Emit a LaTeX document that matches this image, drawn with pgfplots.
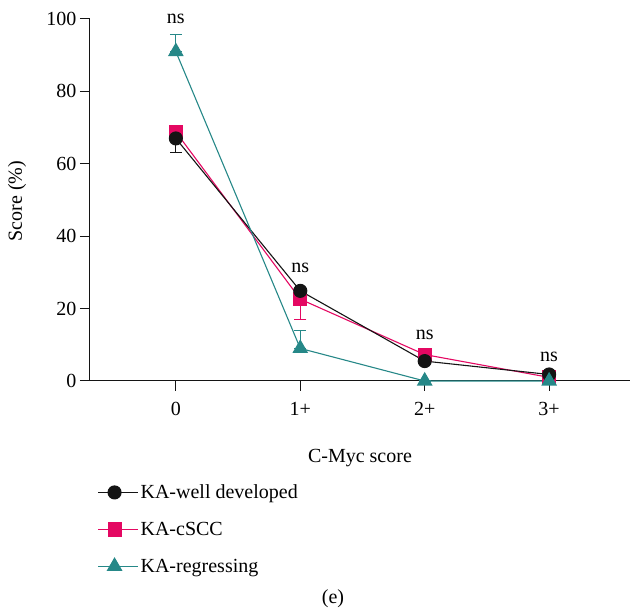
\documentclass[border=0pt]{standalone}
\usepackage{pgfplots}
\pgfplotsset{compat=1.18}
\usepackage{fontspec}
\setmainfont{Liberation Serif}
\definecolor{cblack}{RGB}{20,20,20}
\definecolor{cpink}{RGB}{228,8,98}
\definecolor{cteal}{RGB}{38,136,136}
\newcommand{\ff}{\fontsize{20}{23}\selectfont}
\newcommand{\tl}[1]{\hbox{\ff #1}}
\begin{document}
\begin{tikzpicture}
\begin{axis}[
  at={(0,0)}, anchor=south west,
  scale only axis, width=540pt, height=362pt,
  xmin=-0.69, xmax=3.65, ymin=0, ymax=100,
  axis lines=left, axis line style={-, line width=1pt, color=cblack},
  clip=false,
  xtick={0,1,2,3}, xticklabels={{\tl{0}},{\tl{1+}},{\tl{2+}},{\tl{3+}}},
  ytick={0,20,40,60,80,100}, yticklabels={{\tl{0}},{\tl{20}},{\tl{40}},{\tl{60}},{\tl{80}},{\tl{100}}},
  tick align=outside, major tick length=10pt,
  tick style={line width=1pt, color=cblack},
  xticklabel style={yshift=-8pt},
  xlabel={C-Myc score}, ylabel={Score (\%)},
  xlabel style={font=\ff, at={(axis description cs:0.5,-0.213)}, anchor=center},
  ylabel style={font=\ff, at={(axis description cs:-0.135,0.497)}, anchor=center},
  legend style={at={(axis description cs:0.008,-0.275)}, anchor=north west, draw=none, fill=none,
    font=\ff, row sep=18pt, legend cell align=left},
  legend image code/.code={\draw[#1] (0pt,0pt) -- (33pt,0pt); \draw[#1, mark repeat=2, mark phase=2] plot coordinates {(0pt,0pt) (16.5pt,0pt) (33pt,0pt)}; \path (0pt,0pt) -- (40pt,0pt);},
  error bars/y dir=both, error bars/y explicit,
]
\addlegendimage{cblack, line width=1.1pt, mark=*, mark size=6.5pt, mark options={fill=cblack}}
\addlegendentry{KA-well developed}
\addlegendimage{cpink, line width=1.1pt, mark=square*, mark size=6.5pt, mark options={fill=cpink}}
\addlegendentry{KA-cSCC}
\addlegendimage{cteal, line width=1.1pt, mark=triangle*, mark size=8pt, mark options={fill=cteal}}
\addlegendentry{KA-regressing}
% KA-cSCC
\addplot[forget plot, cpink, line width=1.1pt, mark=square*, mark size=6.5pt, mark options={fill=cpink},
  error bars/error bar style={line width=1.1pt, cpink}, error bars/error mark options={rotate=90, mark size=6pt, line width=1.1pt, cpink}]
  coordinates {(0,68.8) += (0,0) -= (0,0) (1,22.6) += (0,0) -= (0,5.7) (2,7.3) += (0,0) -= (0,0) (3,1.0) += (0,0) -= (0,0)};
% KA-well developed
\addplot[forget plot, cblack, line width=1.1pt, mark=*, mark size=6.5pt, mark options={fill=cblack},
  error bars/error bar style={line width=1.1pt, cblack}, error bars/error mark options={rotate=90, mark size=6pt, line width=1.1pt, cblack}]
  coordinates {(0,67) += (0,0) -= (0,4) (1,24.9) += (0,0) -= (0,2.5) (2,5.5) += (0,0) -= (0,0) (3,1.8) += (0,0) -= (0,0)};
% KA-regressing
\addplot[forget plot, cteal, line width=1.1pt, mark=triangle*, mark size=8pt, mark options={fill=cteal},
  error bars/error bar style={line width=1.1pt, cteal}, error bars/error mark options={rotate=90, mark size=6pt, line width=1.1pt, cteal}]
  coordinates {(0,91) += (0,4.8) -= (0,0) (1,9.0) += (0,4.9) -= (0,0) (2,0) += (0,0) -= (0,0) (3,0) += (0,0) -= (0,0)};
\node[font=\ff] at (axis cs:0,100) {ns};
\node[font=\ff] at (axis cs:1,31.2) {ns};
\node[font=\ff] at (axis cs:2,12.7) {ns};
\node[font=\ff] at (axis cs:3,6.6) {ns};
\node[font=\ff] at (axis description cs:0.45,-0.6) {(e)};
\end{axis}
\pgfresetboundingbox
\path[use as bounding box] (-90pt,-231pt) rectangle (544pt,381pt);
\end{tikzpicture}
\end{document}
